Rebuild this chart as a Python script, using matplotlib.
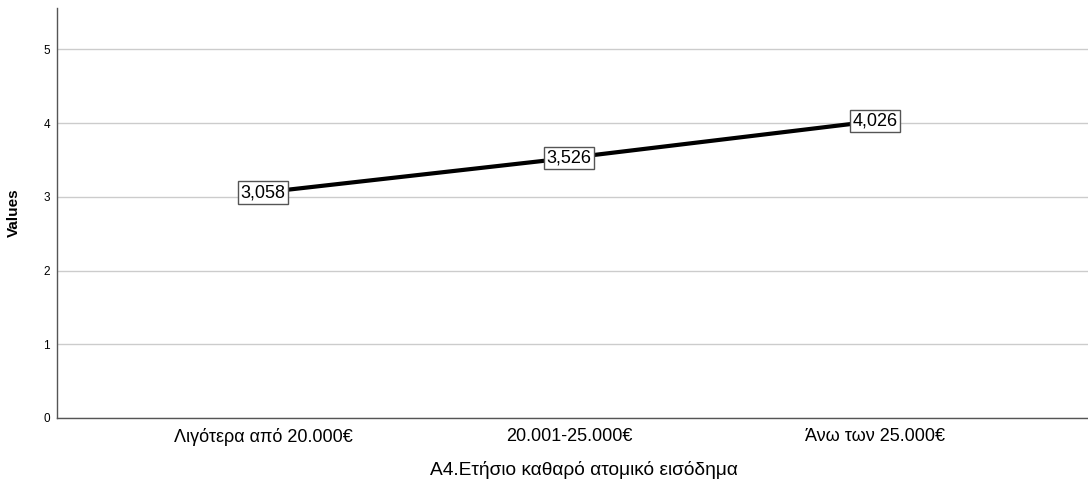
import matplotlib.pyplot as plt

plt.rcParams['font.family'] = ['Liberation Sans', 'DejaVu Sans']

# Data
categories = ['Λιγότερα από 20.000€', '20.001-25.000€', 'Άνω των 25.000€']
values = [3.058, 3.526, 4.026]
labels = ['3,058', '3,526', '4,026']
yticks = [0, 1, 2, 3, 4, 5]

fig = plt.figure(figsize=(10.88, 4.82), dpi=100)
ax = fig.add_axes([57 / 1088, 64 / 482, 1 - 57 / 1088, 410 / 482])

x = list(range(len(categories)))
ax.plot(x, values, color='black', linewidth=3, zorder=3, solid_capstyle='butt')

for xi, v, lab in zip(x, values, labels):
    ax.text(xi, v, lab, ha='center', va='center', fontsize=13, zorder=4,
            bbox=dict(boxstyle='square,pad=0.15', facecolor='white',
                      edgecolor='#555555', linewidth=1))

ax.set_xlim(-0.673, 2.696)
ax.set_ylim(0, 5.56)
ax.set_yticks(yticks)
ax.set_xticks(x)
ax.set_xticklabels(categories, fontsize=13)
ax.tick_params(axis='y', labelsize=8.5, length=0, pad=5)
ax.tick_params(axis='x', length=0, pad=7)
ax.grid(axis='y', color='#cccccc', linewidth=1, zorder=0)

for s in ['top', 'right']:
    ax.spines[s].set_visible(False)
for s in ['left', 'bottom']:
    ax.spines[s].set_color('#555555')
    ax.spines[s].set_linewidth(1)

ax.set_ylabel('Values', fontsize=11, fontweight='bold', labelpad=16)
ax.set_xlabel('A4.Ετήσιο καθαρό ατομικό εισόδημα', fontsize=13.8,
              labelpad=10)
ax.xaxis.set_label_coords(0.511, -0.105)

fig.savefig('out.png', dpi=100)
